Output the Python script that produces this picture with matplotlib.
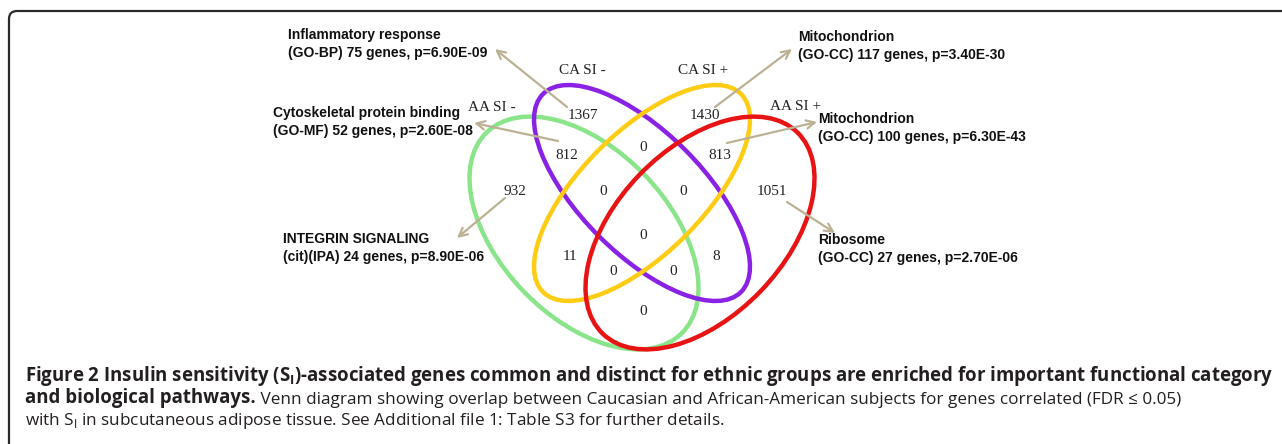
import matplotlib
matplotlib.use('Agg')
import matplotlib.pyplot as plt
from matplotlib.patches import Ellipse, FancyBboxPatch

# -------------------------------------------------------
#                      DATA
# -------------------------------------------------------

set_names = ['AA SI -', 'CA SI -', 'CA SI +', 'AA SI +']
set_colors = ['#8ae48a', '#8a22e6', '#ffcc14', '#e81414']

# region keys: A = AA SI-, B = CA SI-, C = CA SI+, D = AA SI+
region_keys = ['A', 'B', 'C', 'D', 'AB', 'BC', 'CD', 'ABC', 'BCD',
               'AC', 'BD', 'ABCD', 'ACD', 'ABD', 'AD']
region_counts = [932, 1367, 1430, 1051, 812, 0, 813, 0, 0,
                 11, 8, 0, 0, 0, 0]

enrich_terms = ['Inflammatory response', 'Cytoskeletal protein binding',
                'INTEGRIN SIGNALING', 'Mitochondrion', 'Mitochondrion', 'Ribosome']
enrich_source = ['GO-BP', 'GO-MF', 'cit)(IPA', 'GO-CC', 'GO-CC', 'GO-CC']
enrich_genes = [75, 52, 24, 117, 100, 27]
enrich_p = ['6.90E-09', '2.60E-08', '8.90E-06', '3.40E-30', '6.30E-43', '2.70E-06']

# -------------------------------------------------------
#                      LAYOUT (pixel units)
# -------------------------------------------------------

ell_center = [(584, 233), (642, 193), (642, 193), (700, 233)]
ell_size = [(280, 168), (280, 122), (280, 122), (280, 168)]
ell_angle = [46, 45, -45, -46]
name_pos = [(492, 107), (582, 71), (703, 71), (795, 106)]

region_pos = {'A': (515, 191), 'B': (583, 115), 'C': (705, 115), 'D': (772, 191),
              'AB': (567, 155), 'BC': (643, 147), 'CD': (720, 155),
              'ABC': (603, 191), 'BCD': (683, 191), 'AC': (570, 256),
              'BD': (716, 256), 'ABCD': (643, 235), 'ACD': (613, 271),
              'ABD': (673, 271), 'AD': (643, 311)}

arrow_start = [(567, 107), (558, 141), (505, 198), (715, 107), (727, 143), (787, 202)]
arrow_end = [(495, 49), (474, 123), (457, 238), (792, 49), (817, 122), (835, 233)]
label_pos = [(288, 44), (273, 122), (283, 248), (798, 46), (818, 128), (818, 249)]

cap_font = 'Open Sans'
plt.rcParams['mathtext.fontset'] = 'custom'
plt.rcParams['mathtext.rm'] = cap_font
plt.rcParams['mathtext.bf'] = cap_font + ':bold'

W, H = 1282, 444
fig = plt.figure(figsize=(W / 100, H / 100), dpi=100)
ax = fig.add_axes([0, 0, 1, 1])
ax.set_xlim(0, W)
ax.set_ylim(H, 0)
ax.axis('off')

# frame with rounded top-left corner
frame = FancyBboxPatch((9, 11), 1400, 500, boxstyle='round,pad=0,rounding_size=8',
                       fill=False, ec='#2a2a2a', lw=1.6)
ax.add_patch(frame)

for c, s, a, col in zip(ell_center, ell_size, ell_angle, set_colors):
    ax.add_patch(Ellipse(c, s[0], s[1], angle=a, fill=False, ec=col, lw=3.2))

for name, p in zip(set_names, name_pos):
    ax.text(p[0], p[1], name, family='Liberation Serif', fontsize=11,
            ha='center', va='center', color='#222222')

for k, n in zip(region_keys, region_counts):
    x, y = region_pos[k]
    ax.text(x, y, str(n), family='Liberation Serif', fontsize=11,
            ha='center', va='center', color='#222222')

for i in range(len(enrich_terms)):
    label = '%s\n(%s) %d genes, p=%s' % (enrich_terms[i], enrich_source[i],
                                         enrich_genes[i], enrich_p[i])
    ax.text(label_pos[i][0], label_pos[i][1], label, family='Liberation Sans',
            fontweight='bold', fontsize=10, ha='left', va='center',
            linespacing=1.32, color='#111111')
    ax.annotate('', xy=arrow_end[i], xytext=arrow_start[i],
                arrowprops=dict(arrowstyle='->,head_length=0.6,head_width=0.3',
                                color='#bbb193', lw=1.6, shrinkA=0, shrinkB=0))

# caption
renderer = fig.canvas.get_renderer()


def fit_width(txt, target):
    w = txt.get_window_extent(renderer).width
    txt.set_fontsize(txt.get_fontsize() * target / w)


cap_kw = dict(family=cap_font, fontsize=12, color='#231f20', va='baseline')
t1 = ax.text(25, 381, r'Figure 2 Insulin sensitivity (S$_\mathbf{I}$)-associated genes common and '
             'distinct for ethnic groups are enriched for important functional category',
             fontweight='bold', **cap_kw)
fit_width(t1, 1247)
t2 = ax.text(25, 403, 'and biological pathways.', fontweight='bold', **cap_kw)
t2.set_fontsize(t1.get_fontsize())
t3 = ax.text(25, 425, r'with S$_\mathrm{I}$ in subcutaneous adipose tissue. See Additional '
             'file 1: Table S3 for further details.', **cap_kw)
fit_width(t3, 720)
t2b = ax.annotate(' Venn diagram showing overlap between Caucasian and African-American '
                  'subjects for genes correlated (FDR \u2264 0.05)',
                  xy=(1, 0), xycoords=t2, ha='left', va='bottom',
                  family=cap_font, fontsize=t3.get_fontsize(), color='#231f20')
start = t2.get_window_extent(renderer).x1
s3 = t3.get_fontsize()
fit_width(t2b, 1150 - start)
reg_size = (s3 + t2b.get_fontsize()) / 2
t2b.set_fontsize(reg_size)
t3.set_fontsize(reg_size)

fig.savefig('out.png', dpi=100)
